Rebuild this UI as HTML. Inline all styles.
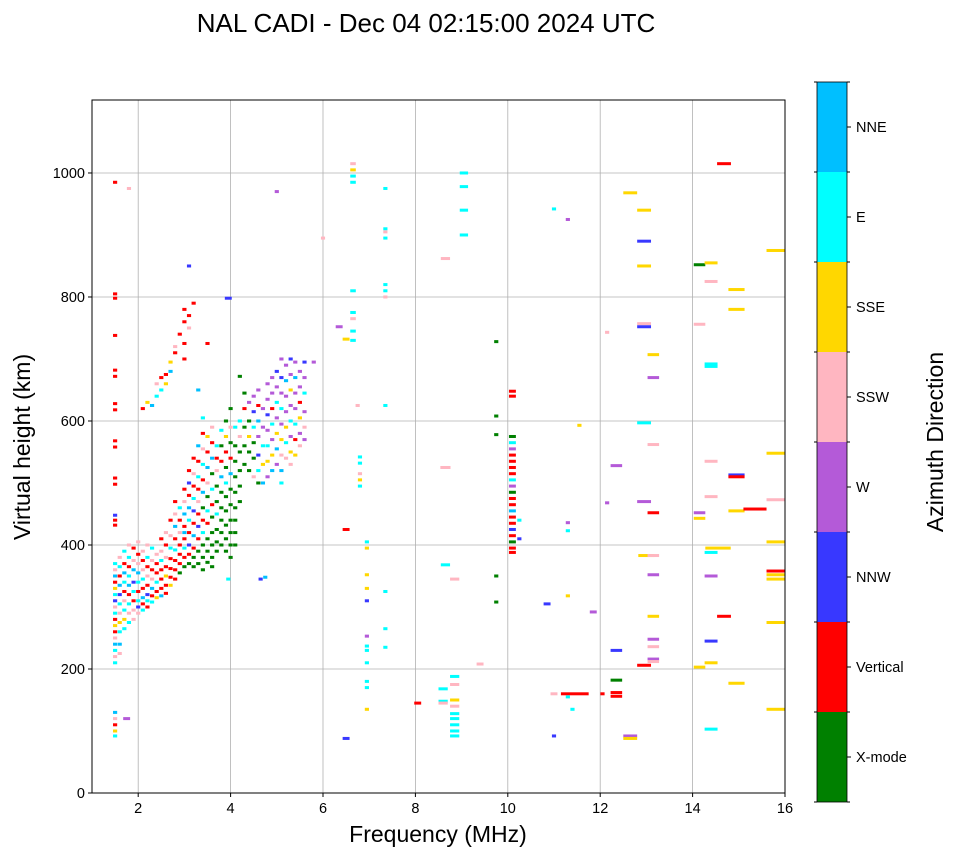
<!DOCTYPE html>
<html><head><meta charset="utf-8">
<style>
body{margin:0;background:#fff;font-family:"Liberation Sans","DejaVu Sans",sans-serif;}
svg text{font-family:"Liberation Sans","DejaVu Sans",sans-serif;}
</style></head>
<body>
<svg id="chart" width="958" height="857" viewBox="0 0 958 857" xmlns="http://www.w3.org/2000/svg">
<rect width="958" height="857" fill="#fff"/>
<text x="426" y="32" font-size="26" text-anchor="middle">NAL CADI - Dec 04 02:15:00 2024 UTC</text>
<g id="grid"></g>
<g id="marks"></g>
<rect x="92" y="100" width="693" height="693" fill="none" stroke="#000" stroke-width="1"/>
<g id="axes"></g>
<text x="438" y="842" font-size="23" text-anchor="middle">Frequency (MHz)</text>
<text transform="translate(30,447) rotate(-90)" font-size="23" text-anchor="middle">Virtual height (km)</text>
<g id="colorbar"></g>
<text transform="translate(943,442) rotate(-90)" font-size="23" text-anchor="middle">Azimuth Direction</text>
</svg>
<script>
const categories = ["X-mode","Vertical","NNW","W","SSW","SSE","E","NNE"];
const catColors = ["#008000","#ff0000","#3838ff","#b45ad8","#ffb6c1","#ffd700","#00ffff","#00bfff"];
const xTicks = [2,4,6,8,10,12,14,16];
const yTicks = [0,200,400,600,800,1000];
// points: [frequency MHz, height km, direction index, optional span MHz]
const points = [
[1.5,985,1],[1.5,805,1],[1.5,798,1],[1.5,738,1],[1.5,682,1],[1.5,672,1],[1.5,628,1],[1.5,618,1],[1.5,568,1],[1.5,558,1],[1.5,508,1],[1.5,498,1],[1.5,448,2],[1.5,440,1],[1.5,432,1],[1.5,370,6],[1.5,360,4],[1.5,350,7],[1.5,340,1],[1.5,330,5],[1.5,320,6],[1.5,310,2],[1.5,300,4],[1.5,290,6],[1.5,280,1],[1.5,270,5],[1.5,260,1],[1.5,250,4],[1.5,240,7],[1.5,230,6],[1.5,220,4],[1.5,210,6],[1.5,130,7],[1.5,120,4],[1.5,110,1],[1.5,100,5],[1.5,92,6],
[1.6,380,4],[1.6,365,6],[1.6,350,1],[1.6,335,7],[1.6,320,2],[1.6,305,6],[1.6,290,4],[1.6,275,5],[1.6,260,6],[1.6,240,7],[1.6,225,4],
[1.7,390,6],[1.7,370,1],[1.7,355,7],[1.7,340,6],[1.7,325,1],[1.7,310,4],[1.7,295,6],[1.7,280,5],[1.7,265,6],[1.75,120,3,0.15],
[1.8,400,4],[1.8,380,6],[1.8,365,1],[1.8,350,6],[1.8,335,7],[1.8,320,1],[1.8,305,6],[1.8,290,4],[1.8,275,6],[1.8,975,4],
[1.9,395,1],[1.9,375,4],[1.9,360,7],[1.9,340,2],[1.9,325,6],[1.9,310,1],[1.9,295,4],[1.9,280,4],
[2.0,405,4],[2.0,385,1],[2.0,370,4],[2.0,355,7],[2.0,340,6],[2.0,325,1],[2.0,310,6],[2.0,300,2],[2.0,290,4],
[2.1,390,4],[2.1,375,1],[2.1,360,4],[2.1,345,6],[2.1,330,1],[2.1,315,7],[2.1,305,1],[2.1,295,6],[2.1,620,1],
[2.2,400,4],[2.2,380,6],[2.2,365,1],[2.2,350,4],[2.2,335,1],[2.2,320,2],[2.2,310,6],[2.2,300,1],[2.2,630,5],
[2.3,395,6],[2.3,375,4],[2.3,360,1],[2.3,345,4],[2.3,330,7],[2.3,318,1],[2.3,308,6],[2.3,625,7],
[2.4,385,4],[2.4,370,1],[2.4,355,1],[2.4,340,6],[2.4,325,1],[2.4,315,5],[2.4,660,4],[2.4,640,6],
[2.5,410,1],[2.5,390,4],[2.5,375,6],[2.5,360,1],[2.5,345,1],[2.5,330,1],[2.5,318,7],[2.5,650,6],[2.5,670,1],
[2.6,420,4],[2.6,400,1],[2.6,380,4],[2.6,365,1],[2.6,350,5],[2.6,335,1],[2.6,322,1],[2.6,675,1],[2.6,660,5],
[2.7,440,1],[2.7,415,4],[2.7,395,6],[2.7,378,1],[2.7,362,1],[2.7,348,1],[2.7,335,5],[2.7,680,7],[2.7,695,5],
[2.8,470,1],[2.8,450,4],[2.8,430,7],[2.8,410,1],[2.8,392,6],[2.8,375,1],[2.8,360,1],[2.8,345,1],[2.8,710,1],[2.8,720,4],
[2.9,460,6],[2.9,440,1],[2.9,420,4],[2.9,400,1],[2.9,385,1],[2.9,370,1],[2.9,355,0],[2.9,740,1],
[3.0,490,1],[3.0,470,4],[3.0,450,7],[3.0,430,1],[3.0,410,1],[3.0,395,6],[3.0,380,1],[3.0,365,0],[3.0,760,1],[3.0,780,1],[3.0,725,1],[3.0,700,1],[3.0,420,7],
[3.1,520,1],[3.1,500,2],[3.1,480,1],[3.1,460,7],[3.1,440,6],[3.1,420,1],[3.1,400,2],[3.1,385,1],[3.1,370,0],[3.1,750,4],[3.1,770,1],[3.1,850,2],
[3.2,540,1],[3.2,515,4],[3.2,495,1],[3.2,475,6],[3.2,455,2],[3.2,435,1],[3.2,415,7],[3.2,395,1],[3.2,380,0],[3.2,365,0],[3.2,790,1],
[3.3,560,7],[3.3,535,1],[3.3,510,6],[3.3,490,1],[3.3,470,4],[3.3,450,1],[3.3,430,2],[3.3,410,1],[3.3,390,0],[3.3,370,0],[3.3,650,7],
[3.4,580,1],[3.4,555,4],[3.4,530,6],[3.4,505,1],[3.4,485,7],[3.4,460,0],[3.4,440,1],[3.4,420,6],[3.4,400,0],[3.4,380,0],[3.4,360,0],[3.4,605,6],
[3.5,575,5],[3.5,550,1],[3.5,525,7],[3.5,500,4],[3.5,478,0],[3.5,455,6],[3.5,435,1],[3.5,410,0],[3.5,390,0],[3.5,372,0],[3.5,725,1],
[3.6,590,4],[3.6,565,1],[3.6,540,7],[3.6,515,0],[3.6,490,6],[3.6,465,1],[3.6,445,0],[3.6,420,0],[3.6,400,0],[3.6,380,0],[3.6,365,0],
[3.7,560,6],[3.7,540,1],[3.7,520,4],[3.7,495,0],[3.7,470,0],[3.7,450,6],[3.7,425,0],[3.7,405,0],[3.7,390,0],
[3.8,585,6],[3.8,560,0],[3.8,535,1],[3.8,510,7],[3.8,485,0],[3.8,460,0],[3.8,440,0],[3.8,420,0],[3.8,400,0],
[3.9,600,0],[3.9,575,5],[3.9,550,1],[3.9,525,0],[3.9,500,6],[3.9,478,0],[3.9,455,0],[3.9,432,0],[3.9,410,0],[3.9,390,0],[3.95,798,2,0.15],[3.95,345,6],
[4.0,620,0],[4.0,590,4],[4.0,565,0],[4.0,540,1],[4.0,515,7],[4.0,490,0],[4.0,465,0],[4.0,440,0],[4.0,420,0],[4.0,400,0],[4.0,380,0],
[4.1,590,6],[4.1,560,0],[4.1,535,0],[4.1,510,0],[4.1,485,0],[4.1,460,0],[4.1,440,0],[4.1,420,0],[4.1,400,0],
[4.2,600,6],[4.2,575,4],[4.2,550,0],[4.2,520,0],[4.2,495,0],[4.2,470,0],[4.2,672,0],
[4.3,620,1],[4.3,590,0],[4.3,560,0],[4.3,530,0],[4.3,645,0],
[4.4,630,3],[4.4,600,0],[4.4,575,5],[4.4,550,0],[4.4,520,0],
[4.5,640,3],[4.5,615,2],[4.5,590,6],[4.5,565,0],[4.5,540,0],[4.5,510,4],
[4.6,650,3],[4.6,625,1],[4.6,600,7],[4.6,575,3],[4.6,545,2],[4.6,520,6],[4.6,500,0],[4.65,345,2],
[4.7,620,3],[4.7,590,3],[4.7,560,6],[4.7,530,5],[4.7,500,7],[4.75,348,7],
[4.8,660,3],[4.8,635,3],[4.8,610,2],[4.8,585,3],[4.8,560,6],[4.8,535,5],[4.8,510,3],
[4.9,670,3],[4.9,645,3],[4.9,620,1],[4.9,595,6],[4.9,570,3],[4.9,545,5],[4.9,520,7],
[5.0,680,2],[5.0,655,3],[5.0,630,6],[5.0,605,3],[5.0,580,5],[5.0,555,7],[5.0,530,3],[5.0,970,3],
[5.1,700,3],[5.1,670,2],[5.1,645,3],[5.1,620,6],[5.1,595,3],[5.1,570,5],[5.1,545,4],[5.1,520,7],[5.1,500,6],
[5.2,690,3],[5.2,665,7],[5.2,640,3],[5.2,615,3],[5.2,590,5],[5.2,565,6],[5.2,540,4],
[5.3,700,2],[5.3,675,3],[5.3,650,5],[5.3,625,3],[5.3,600,6],[5.3,575,3],[5.3,550,5],[5.3,530,4],
[5.4,695,3],[5.4,670,7],[5.4,645,3],[5.4,620,3],[5.4,595,6],[5.4,570,1],[5.4,545,5],
[5.5,680,3],[5.5,655,3],[5.5,630,1],[5.5,605,5],[5.5,580,3],[5.5,560,4],
[5.6,695,2],[5.6,670,3],[5.6,645,6],[5.6,615,3],[5.6,590,4],[5.6,570,3],[5.8,695,3],
[6.0,895,4],[6.35,752,3,0.15],[6.5,732,5,0.15],[6.5,425,1,0.15],[6.5,88,2,0.15],
[6.65,1015,4,0.12],[6.65,1005,5,0.12],[6.65,995,6,0.12],[6.65,985,6,0.12],[6.65,810,6,0.12],[6.65,775,6,0.12],[6.65,765,4,0.12],[6.65,745,6,0.12],[6.65,730,6,0.12],
[6.75,625,4],[6.8,542,6],[6.8,532,6],[6.8,515,4],[6.8,505,5],[6.8,495,6],
[6.95,405,6],[6.95,395,5],[6.95,352,5],[6.95,330,5],[6.95,310,2],[6.95,253,3],[6.95,237,6],[6.95,230,6],[6.95,210,6],[6.95,180,6],[6.95,170,6],[6.95,135,5],
[7.35,975,6],[7.35,910,6],[7.35,905,4],[7.35,895,6],[7.35,820,6],[7.35,810,6],[7.35,800,4],[7.35,625,6],[7.35,325,6],[7.35,265,6],[7.35,235,6],
[8.05,145,1,0.15],[8.65,862,4,0.2],[8.65,525,4,0.22],[8.65,368,6,0.2],[8.6,168,6,0.2],[8.6,148,6,0.2],[8.6,145,4,0.2],
[8.85,345,4,0.2],[8.85,188,6,0.2],[8.85,175,4,0.2],[8.85,150,5,0.2],[8.85,140,4,0.2],[8.85,128,6,0.2],[8.85,120,6,0.2],[8.85,110,6,0.2],[8.85,100,6,0.2],[8.85,92,6,0.2],
[9.05,1000,6,0.18],[9.05,978,6,0.18],[9.05,940,6,0.18],[9.05,900,6,0.18],[9.4,208,4,0.15],
[9.75,728,0],[9.75,608,0],[9.75,578,0],[9.75,350,0],[9.75,308,0],
[10.1,648,1,0.15],[10.1,640,1,0.15],[10.1,575,0,0.15],[10.1,565,6,0.15],[10.1,555,3,0.15],[10.1,545,1,0.15],[10.1,535,1,0.15],[10.1,525,1,0.15],[10.1,515,1,0.15],[10.1,505,6,0.15],[10.1,495,3,0.15],[10.1,485,0,0.15],[10.1,475,1,0.15],[10.1,465,1,0.15],[10.1,455,7,0.15],[10.1,445,1,0.15],[10.1,435,1,0.15],[10.1,425,2,0.15],[10.1,415,1,0.15],[10.1,405,0,0.15],[10.1,395,1,0.15],[10.1,388,1,0.15],
[10.25,440,6],[10.25,410,2],[10.85,305,2,0.15],[11.0,942,6],[11.0,92,2],[11.0,160,4,0.15],
[11.3,925,3],[11.3,436,3],[11.3,423,6],[11.3,318,5],[11.45,160,1,0.6],[11.3,155,6],[11.4,135,6],
[11.55,593,5],[11.85,292,3,0.15],[12.05,160,1],[12.15,743,4],[12.15,468,3],
[12.35,528,3,0.25],[12.35,230,2,0.25],[12.35,182,0,0.25],[12.35,162,1,0.25],[12.35,156,1,0.25],
[12.65,968,5,0.3],[12.65,92,3,0.3],[12.65,88,5,0.3],
[12.95,940,5,0.3],[12.95,890,2,0.3],[12.95,850,5,0.3],[12.95,757,4,0.3],[12.95,752,2,0.3],[12.95,597,6,0.3],[12.95,470,3,0.3],[13.0,383,5,0.35],[12.95,206,1,0.3],
[13.15,707,5,0.25],[13.15,670,3,0.25],[13.15,562,4,0.25],[13.15,452,1,0.25],[13.15,383,4,0.25],[13.15,352,3,0.25],[13.15,285,5,0.25],[13.15,248,3,0.25],[13.15,236,4,0.25],[13.15,216,3,0.25],[13.15,212,4,0.25],
[14.15,852,0,0.25],[14.15,756,4,0.25],[14.15,452,3,0.25],[14.15,443,5,0.25],[14.15,203,5,0.25],
[14.4,855,5,0.28],[14.4,825,4,0.28],[14.4,692,6,0.28],[14.4,688,6,0.28],[14.4,535,4,0.28],[14.4,478,4,0.28],[14.55,395,5,0.55],[14.4,388,6,0.28],[14.4,350,3,0.28],[14.4,245,2,0.28],[14.4,210,5,0.28],[14.4,103,6,0.28],
[14.68,1015,1,0.3],[14.68,285,1,0.3],
[14.95,812,5,0.35],[14.95,780,5,0.35],[14.95,513,2,0.35],[14.95,510,1,0.35],[14.95,455,5,0.35],[14.95,177,5,0.35],
[15.35,458,1,0.5],
[15.8,875,5,0.4],[15.8,548,5,0.4],[15.8,473,4,0.4],[15.8,405,5,0.4],[15.8,358,1,0.4],[15.8,352,5,0.4],[15.8,345,5,0.4],[15.8,275,5,0.4],[15.8,135,5,0.4]
];

const NS="http://www.w3.org/2000/svg";
const PL=92,PT=100,PW=693,PH=693,XMIN=1,XMAX=16,YMIN=0,YMAX=1117.7;
function xs(v){return PL+(v-XMIN)/(XMAX-XMIN)*PW;}
function ys(v){return PT+PH-(v-YMIN)/(YMAX-YMIN)*PH;}
function mk(tag,attrs,parent){const e=document.createElementNS(NS,tag);for(const k in attrs)e.setAttribute(k,attrs[k]);parent.appendChild(e);return e;}
const grid=document.getElementById('grid'),axes=document.getElementById('axes'),marks=document.getElementById('marks'),cb=document.getElementById('colorbar');
xTicks.forEach(t=>{const x=xs(t);
 const g=mk('line',{x1:x,x2:x,y1:PT,y2:PT+PH,stroke:'#b0b0b0','stroke-width':0.8},grid);
 
 mk('line',{x1:x,x2:x,y1:PT+PH,y2:PT+PH+4,stroke:'#000'},axes);
 const tx=mk('text',{x:x,y:PT+PH+20,'font-size':14.5,'text-anchor':'middle'},axes);tx.textContent=t;
 });
yTicks.forEach(t=>{const y=ys(t);
 const g=mk('line',{x1:PL,x2:PL+PW,y1:y,y2:y,stroke:'#b0b0b0','stroke-width':0.8},grid);
 
 mk('line',{x1:PL-4,x2:PL,y1:y,y2:y,stroke:'#000'},axes);
 const tx=mk('text',{x:PL-7,y:y+5,'font-size':14.5,'text-anchor':'end'},axes);tx.textContent=t;
 });
points.forEach(p=>{const span=p[3]||0.09;const x0=xs(p[0]-span/2),x1=xs(p[0]+span/2);
 const r=mk('rect',{x:x0,y:ys(p[1])-1.5,width:x1-x0,height:3,fill:catColors[p[2]]},marks);
 });
const CX=817,CW=30,CT=82,CH=720,seg=CH/categories.length;
categories.forEach((c,i)=>{const y=CT+CH-(i+1)*seg;
 const r=mk('rect',{x:CX,y:y,width:CW,height:seg,fill:catColors[i]},cb);
 
 mk('line',{x1:CX+CW,x2:CX+CW+4,y1:y+seg/2,y2:y+seg/2,stroke:'#000'},cb);
 const t=mk('text',{x:CX+CW+9,y:y+seg/2+5,'font-size':14.5},cb);t.textContent=c;
 });
for(let i=0;i<=categories.length;i++){const y=CT+i*seg;mk('line',{x1:CX-3,x2:CX,y1:y,y2:y,stroke:'#000'},cb);mk('line',{x1:CX+CW,x2:CX+CW+3,y1:y,y2:y,stroke:'#000'},cb);}
mk('rect',{x:CX,y:CT,width:CW,height:CH,fill:'none',stroke:'#000','stroke-width':0.8},cb);
</script>
</body></html>
